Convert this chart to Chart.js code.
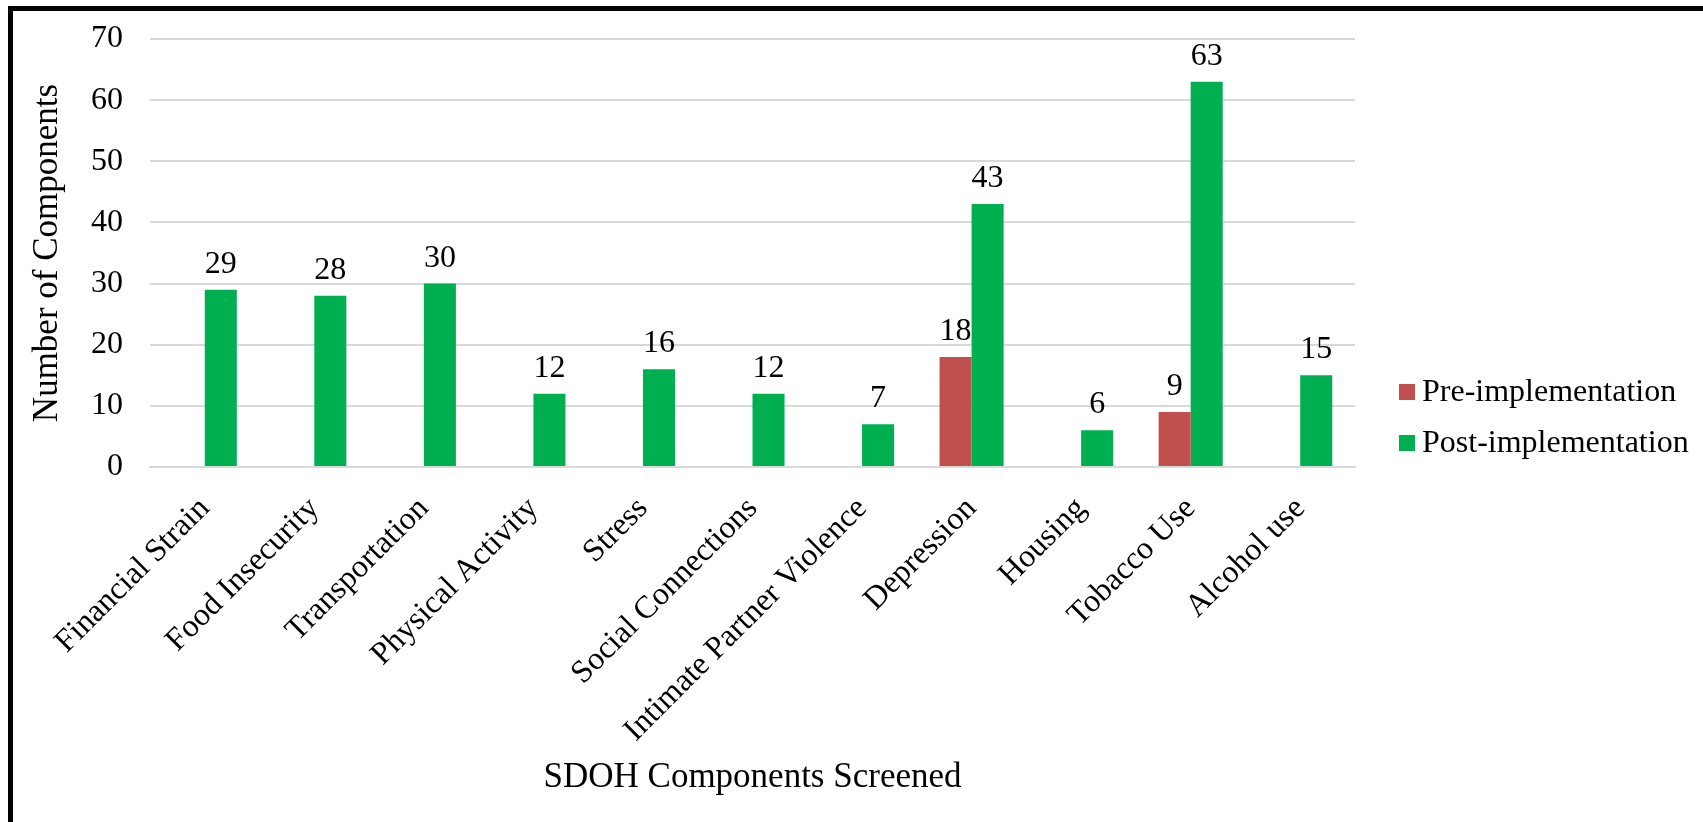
<!DOCTYPE html>
<html lang="en">
<head>
    <meta charset="UTF-8">
    <title>SDOH Components Screened</title>
    <script src="https://cdn.jsdelivr.net/npm/chart.js"></script>
    <style>
        html, body {
            margin: 0;
            padding: 0;
            background: #fff;
            overflow: hidden;
        }
        /* schwarzer Rahmen oben und links */
        .frame {
            position: absolute;
            left: 8px;
            top: 6px;
            width: 3000px;
            height: 3000px;
            border-left: 5px solid #000;
            border-top: 5px solid #000;
        }
        .chart-box {
            position: absolute;
            left: 0;
            top: 0;
            width: 1703px;
            height: 822px;
        }
    </style>
</head>
<body>
    <div class="frame"></div>
    <div class="chart-box">
        <canvas id="sdohChart"></canvas>
    </div>

    <script>
        const categories = [
            'Financial Strain', 'Food Insecurity', 'Transportation', 'Physical Activity',
            'Stress', 'Social Connections', 'Intimate Partner Violence', 'Depression',
            'Housing', 'Tobacco Use', 'Alcohol use'
        ];
        const preImplementation = [null, null, null, null, null, null, null, 18, null, 9, null];
        const postImplementation = [29, 28, 30, 12, 16, 12, 7, 43, 6, 63, 15];
        const seriesNames = ['Pre-implementation', 'Post-implementation'];
        const yTicks = [0, 10, 20, 30, 40, 50, 60, 70];

        const serif = '"Liberation Serif", "Times New Roman", serif';

        // Werte über den Balken
        const valueLabels = {
            id: 'valueLabels',
            afterDatasetsDraw(chart) {
                const ctx = chart.ctx;
                ctx.save();
                ctx.font = '32px ' + serif;
                ctx.fillStyle = '#000';
                ctx.textAlign = 'center';
                ctx.textBaseline = 'alphabetic';
                chart.data.datasets.forEach((ds, i) => {
                    chart.getDatasetMeta(i).data.forEach((bar, j) => {
                        const v = ds.data[j];
                        if (v === null || v === undefined) return;
                        ctx.fillText(String(v), bar.x, bar.y - 17);
                    });
                });
                ctx.restore();
            }
        };

        // Legende rechts neben dem Diagramm
        const sideLegend = {
            id: 'sideLegend',
            afterDraw(chart) {
                const ctx = chart.ctx;
                const area = chart.chartArea;
                const x = area.right + 44;
                const rows = [area.bottom - 75, area.bottom - 24];
                ctx.save();
                ctx.font = '32px ' + serif;
                ctx.textAlign = 'left';
                ctx.textBaseline = 'middle';
                chart.data.datasets.forEach((ds, i) => {
                    const y = rows[i];
                    ctx.fillStyle = ds.backgroundColor;
                    ctx.fillRect(x, y - 8, 16, 16);
                    ctx.fillStyle = '#000';
                    ctx.fillText(ds.label, x + 23, y + 1);
                });
                ctx.restore();
            }
        };

        const ctx = document.getElementById('sdohChart').getContext('2d');
        new Chart(ctx, {
            type: 'bar',
            data: {
                labels: categories,
                datasets: [{
                    label: seriesNames[0],
                    data: preImplementation,
                    backgroundColor: '#C0504D',
                    barPercentage: 1,
                    categoryPercentage: 0.585
                }, {
                    label: seriesNames[1],
                    data: postImplementation,
                    backgroundColor: '#00B050',
                    barPercentage: 1,
                    categoryPercentage: 0.585
                }]
            },
            options: {
                responsive: true,
                maintainAspectRatio: false,
                animation: false,
                layout: {
                    padding: { left: 10, top: 39, right: 348, bottom: 23 }
                },
                plugins: {
                    legend: { display: false },
                    tooltip: { enabled: false }
                },
                scales: {
                    x: {
                        // schräge Beschriftungen dürfen links überstehen, feste Höhe wie im Original
                        afterFit(scale) {
                            scale.paddingLeft = 0;
                            scale.paddingRight = 0;
                            scale.height = 332;
                        },
                        grid: { display: false },
                        border: { color: '#d9d9d9', width: 2 },
                        ticks: {
                            color: '#000',
                            font: { family: serif, size: 32 },
                            minRotation: 45,
                            maxRotation: 45,
                            autoSkip: false,
                            padding: 15
                        },
                        title: {
                            display: true,
                            text: 'SDOH Components Screened',
                            color: '#000',
                            font: { family: serif, size: 35 },
                            padding: { top: 0, bottom: 0 }
                        }
                    },
                    y: {
                        min: 0,
                        max: 70,
                        afterBuildTicks(scale) {
                            scale.ticks = yTicks.map(v => ({ value: v }));
                        },
                        afterFit(scale) {
                            scale.width = 140;
                            scale.paddingTop = 0;
                            scale.paddingBottom = 0;
                        },
                        grid: { color: '#d9d9d9', lineWidth: 2, drawTicks: false },
                        border: { display: false },
                        ticks: {
                            color: '#000',
                            font: { family: serif, size: 32 },
                            padding: 27
                        },
                        title: {
                            display: true,
                            text: 'Number of Components',
                            color: '#000',
                            font: { family: serif, size: 35 },
                            padding: { top: 17, bottom: 0 }
                        }
                    }
                }
            },
            plugins: [valueLabels, sideLegend]
        });
    </script>
</body>
</html>
